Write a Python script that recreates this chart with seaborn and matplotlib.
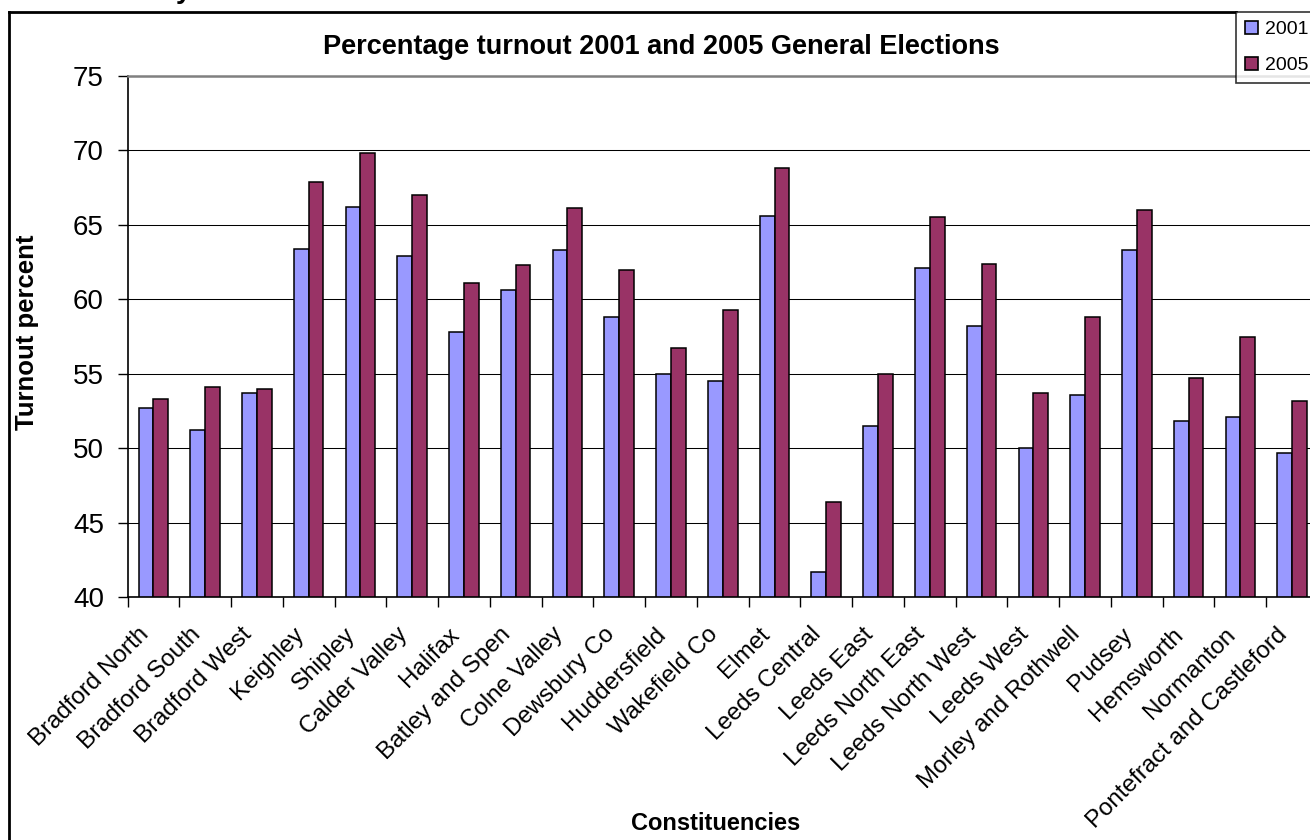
import matplotlib
matplotlib.use("Agg")
import matplotlib.pyplot as plt
import matplotlib.transforms as mtransforms
import numpy as np
import pandas as pd
import seaborn as sns
from matplotlib.patches import Patch
from matplotlib.lines import Line2D


constituencies = ["Bradford North", "Bradford South", "Bradford West", "Keighley", "Shipley",
                  "Calder Valley", "Halifax", "Batley and Spen", "Colne Valley", "Dewsbury Co",
                  "Huddersfield", "Wakefield Co", "Elmet", "Leeds Central", "Leeds East",
                  "Leeds North East", "Leeds North West", "Leeds West", "Morley and Rothwell",
                  "Pudsey", "Hemsworth", "Normanton", "Pontefract and Castleford"]
turnout_2001 = [52.7, 51.2, 53.7, 63.4, 66.2, 62.9, 57.8, 60.6, 63.3, 58.8, 55.0, 54.5,
                65.6, 41.7, 51.5, 62.1, 58.2, 50.0, 53.6, 63.3, 51.8, 52.1, 49.7]
turnout_2005 = [53.3, 54.1, 54.0, 67.9, 69.8, 67.0, 61.1, 62.3, 66.1, 62.0, 56.7, 59.3,
                68.8, 46.4, 55.0, 65.5, 62.4, 53.7, 58.8, 66.0, 54.7, 57.5, 53.2]
years = ["2001", "2005"]
y_ticks = [40, 45, 50, 55, 60, 65, 70, 75]

colours = {"2001": "#9999FF", "2005": "#993366"}

df = pd.DataFrame({
    "Constituency": constituencies * 2,
    "Year": ["2001"] * len(constituencies) + ["2005"] * len(constituencies),
    "Turnout": turnout_2001 + turnout_2005,
})

plt.rcParams["font.family"] = ["Liberation Sans", "DejaVu Sans"]

W, H = 1310, 840
fig = plt.figure(figsize=(W / 100, H / 100), dpi=100)
ax = fig.add_axes([127.5 / W, 1 - 597 / H, (1318 - 127.5) / W, (597 - 76) / H])

sns.barplot(data=df, x="Constituency", y="Turnout", hue="Year", order=constituencies,
            hue_order=years, palette=colours, width=0.571, gap=0, edgecolor="black",
            linewidth=1.1, saturation=1, legend=False, ax=ax)

ax.set_ylim(40, 75)
ax.set_xlim(-0.5, len(constituencies) - 0.5)
ax.set_yticks(y_ticks)
ax.set_yticklabels([str(v) for v in y_ticks], fontsize=20)
ax.tick_params(axis="y", length=7, width=1, pad=10, color="black")
ax.set_xticks(range(len(constituencies)))
ax.set_xticklabels(constituencies, rotation=45, ha="right", va="top",
                   rotation_mode="anchor", fontsize=17.4)
ax.tick_params(axis="x", which="major", length=0, pad=19)
ax.set_xticks(np.arange(-0.5, len(constituencies), 1), minor=True)
ax.tick_params(axis="x", which="minor", length=7, width=1, color="black")

# nudge rotated labels to the left, as in the reference
shift = mtransforms.ScaledTranslation(-16 / 100, 0, fig.dpi_scale_trans)
for label in ax.get_xticklabels():
    label.set_transform(label.get_transform() + shift)

ax.yaxis.grid(True, color="black", linewidth=0.75)
ax.set_axisbelow(True)
for side in ["left", "bottom"]:
    ax.spines[side].set_color("black")
    ax.spines[side].set_linewidth(1.2)
ax.spines["top"].set_color("#808080")
ax.spines["top"].set_linewidth(1.8)
ax.spines["right"].set_visible(False)
ax.set_xlabel("")
ax.set_ylabel("")

fig.text(661 / W, 1 - 47 / H, "Percentage turnout 2001 and 2005 General Elections",
         ha="center", va="center", fontsize=19.5, fontweight="bold")
fig.text(27 / W, 1 - 332 / H, "Turnout percent", rotation=90, ha="center", va="center",
         fontsize=18.5, fontweight="bold")
fig.text(716 / W, 1 - 823 / H, "Constituencies", ha="center", va="center",
         fontsize=17, fontweight="bold")

# cropped page heading above the chart frame
fig.text(176 / W, 1 + 1.5 / H, "y", ha="left", va="baseline", fontsize=20, fontweight="bold")

# outer chart frame
fig.add_artist(Line2D([8.5 / W, 8.5 / W], [0, 1 - 12 / H], color="black", linewidth=2,
                      transform=fig.transFigure))
fig.add_artist(Line2D([8.5 / W, 1236 / W], [1 - 12 / H, 1 - 12 / H], color="black",
                      linewidth=2, transform=fig.transFigure))

handles = [Patch(facecolor=colours[y], edgecolor="black", linewidth=1.2, label=y) for y in years]
leg = fig.legend(handles=handles, loc="upper left", bbox_to_anchor=(1236 / W, 1 - 12 / H),
                 frameon=True, fancybox=False, fontsize=14, handlelength=0.7, handleheight=0.7,
                 handletextpad=0.35, borderaxespad=0, borderpad=0.45, labelspacing=0.95)
leg.get_frame().set_edgecolor("black")
leg.get_frame().set_linewidth(1.2)

fig.savefig("out.png", dpi=100, facecolor="white")
